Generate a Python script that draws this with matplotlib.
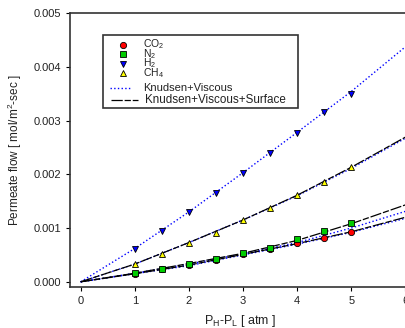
import matplotlib
matplotlib.use("Agg")
import matplotlib.pyplot as plt
from matplotlib.patches import Rectangle

plt.rcParams['font.family'] = ['Liberation Sans', 'DejaVu Sans']
plt.rcParams['mathtext.fontset'] = 'custom'
plt.rcParams['mathtext.rm'] = 'Liberation Sans'
plt.rcParams['mathtext.it'] = 'Liberation Sans'

# measured points
dp_pts = [1.0, 1.5, 2.0, 2.5, 3.0, 3.5, 4.0, 4.5, 5.0]
co2_pts = [0.00015, 0.00023, 0.00031, 0.00040, 0.00051, 0.00061, 0.00072, 0.00082, 0.00093]
n2_pts = [0.00016, 0.00024, 0.00033, 0.00042, 0.00053, 0.00063, 0.00079, 0.00095, 0.00110]
h2_pts = [0.00061, 0.00095, 0.00129, 0.00166, 0.00203, 0.00240, 0.00277, 0.00315, 0.00350]
ch4_pts = [0.00033, 0.00052, 0.00073, 0.00091, 0.00115, 0.00137, 0.00161, 0.00186, 0.00213]

# model curves
dp_model = [0, 1, 2, 3, 4, 5, 6]
h2_kv = [0, 0.00062, 0.00130, 0.00203, 0.00278, 0.00354, 0.00437]
ch4_kv = [0, 0.00033, 0.00073, 0.00115, 0.00160, 0.00211, 0.00267]
ch4_kvs = [0, 0.00033, 0.00073, 0.00115, 0.00161, 0.00213, 0.00269]
n2_kv = [0, 0.00016, 0.00033, 0.00052, 0.00073, 0.00100, 0.00131]
n2_kvs = [0, 0.00016, 0.00034, 0.00053, 0.00077, 0.00108, 0.00143]
co2_kv = [0, 0.00015, 0.00030, 0.00050, 0.00070, 0.00092, 0.00118]
co2_kvs = [0, 0.00015, 0.00031, 0.00051, 0.00071, 0.00093, 0.00120]

xticks = [0, 1, 2, 3, 4, 5, 6]
yticks = [0.000, 0.001, 0.002, 0.003, 0.004, 0.005]

gas_labels = ['CO$_2$', 'N$_2$', 'H$_2$', 'CH$_4$']
model_labels = ['Knudsen+Viscous', 'Knudsen+Viscous+Surface']

fig = plt.figure(figsize=(4.05, 3.28), dpi=100)
AX_L, AX_B, AX_W, AX_H = 70, 41, 341, 274
ax = fig.add_axes([AX_L/405, AX_B/328, AX_W/405, AX_H/328])

def axfrac(px, py):
    return (px - AX_L) / AX_W, (287 - py) / AX_H

txtc = '#222222'
dash = (9, 1.5, 5, 1.5)
blue = '#0000ff'

# Knudsen+Viscous (dotted blue)
for y in [co2_kv, n2_kv, ch4_kv, h2_kv]:
    ax.plot(dp_model, y, ls=':', color=blue, lw=1.0, zorder=2)
# Knudsen+Viscous+Surface (black dashed)
for y in [co2_kvs, n2_kvs, ch4_kvs]:
    ax.plot(dp_model, y, color='black', lw=0.9, dashes=dash, zorder=3)

ms = 4.5
mk = dict(ls='none', markeredgecolor='black', markeredgewidth=0.6, markersize=ms, zorder=4)
styles = [('o', '#ff0000'), ('s', '#00cc00'), ('v', '#0000ff'), ('^', '#ffff00')]
for (m, c), ys in zip(styles, [co2_pts, n2_pts, h2_pts, ch4_pts]):
    ax.plot(dp_pts, ys, marker=m, markerfacecolor=c, **mk)

ax.set_xlim(-0.198, 6.105)
ax.set_ylim(-0.0000967, 0.005)
ax.set_xticks(xticks)
ax.set_yticks(yticks)
ax.set_yticklabels(['%.3f' % v for v in yticks])
ax.tick_params(axis='both', direction='out', length=3, width=0.8, labelsize=8,
               colors='black', labelcolor=txtc, pad=3.5)
for s in ax.spines.values():
    s.set_linewidth(1.2)
    s.set_color('#333333')

ax.set_xlabel('P$_H$-P$_L$ [ atm ]', fontsize=9, color=txtc, labelpad=5)
ax.set_ylabel('Permeate flow [ mol/m$^2$-sec ]', fontsize=8.5, color=txtc, labelpad=7)

# manual legend (pixel layout of the reference)
x0, y0 = axfrac(103, 108)
x1, y1 = axfrac(298, 35)
ax.add_patch(Rectangle((x0, y0), x1 - x0, y1 - y0, transform=ax.transAxes,
                       facecolor='white', edgecolor='#333333', lw=1.2, zorder=5,
                       clip_on=False))
gas_rows = [44.5, 54, 63.5, 73]
for (m, c), lab, py in zip(styles, gas_labels, gas_rows):
    mx, my = axfrac(123, py)
    ax.plot([mx], [my], marker=m, markerfacecolor=c, transform=ax.transAxes,
            clip_on=False, **{**mk, 'zorder': 6})
    tx, ty = axfrac(143, py)
    ax.text(tx, ty, lab, transform=ax.transAxes, fontsize=7.5, color=txtc,
            va='center', ha='left', zorder=6)
lx0, ly = axfrac(110, 88)
lx1, _ = axfrac(131, 88)
ax.plot([lx0, lx1], [ly, ly], ls=':', color=blue, lw=1.0, transform=ax.transAxes,
        clip_on=False, zorder=6)
tx, ty = axfrac(143, 88)
ax.text(tx, ty, model_labels[0], transform=ax.transAxes, fontsize=8, color=txtc,
        va='center', ha='left', zorder=6)
lx0, ly = axfrac(111, 100)
lx1, _ = axfrac(138, 100)
ax.plot([lx0, lx1], [ly, ly], color='black', lw=0.9, dashes=dash, transform=ax.transAxes,
        clip_on=False, zorder=6)
tx, ty = axfrac(145, 100)
ax.text(tx, ty, model_labels[1], transform=ax.transAxes, fontsize=8.4, color=txtc,
        va='center', ha='left', zorder=6)

fig.savefig('out.png', dpi=100)
